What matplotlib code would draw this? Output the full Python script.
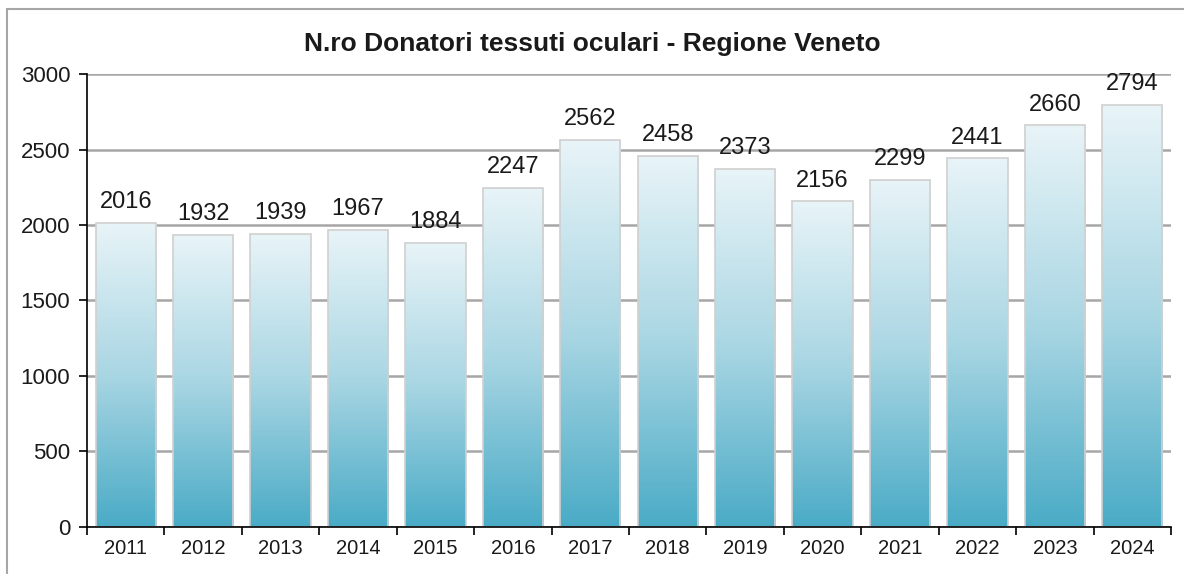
import matplotlib
matplotlib.use('Agg')
import numpy as np
from matplotlib import pyplot as plt
from matplotlib.patches import Rectangle
from matplotlib.colors import LinearSegmentedColormap

# Dati: donatori di tessuti oculari per anno
anni = ['2011', '2012', '2013', '2014', '2015', '2016', '2017',
        '2018', '2019', '2020', '2021', '2022', '2023', '2024']
donatori = [2016, 1932, 1939, 1967, 1884, 2247, 2562,
            2458, 2373, 2156, 2299, 2441, 2660, 2794]
y_ticks = [0, 500, 1000, 1500, 2000, 2500, 3000]

plt.rcParams['font.family'] = ['Liberation Sans', 'DejaVu Sans']

fig = plt.figure(figsize=(11.84, 5.74), dpi=100)
ax = fig.add_axes([0.0735, 0.082, 0.9155, 0.789])

# cornice esterna grigia
fig.patches.append(Rectangle((7 / 1184, -0.05), 1.2, 1 - 9 / 574 + 0.05,
                             transform=fig.transFigure, fill=False,
                             edgecolor='#a6a6a6', linewidth=1.5))

x = np.arange(len(anni))
bars = ax.bar(x, donatori, width=0.78, color='none',
              edgecolor='#d0d0d0', linewidth=1.2, zorder=3)

# gradiente verticale per ogni barra
cmap = LinearSegmentedColormap.from_list('grad', ['#4aabc6', '#a9d6e3', '#e8f4f8'])
grad = np.linspace(0, 1, 256).reshape(-1, 1)
for b in bars:
    x0, y0 = b.get_x(), b.get_y()
    w, h = b.get_width(), b.get_height()
    im = ax.imshow(grad, cmap=cmap, origin='lower', aspect='auto',
                   extent=[x0, x0 + w, y0, y0 + h], zorder=2)
    im.set_clip_path(b)

for xi, v in zip(x, donatori):
    ax.text(xi, v + 65, str(v), ha='center', va='bottom', fontsize=17, color='#1a1a1a')

ax.set_xlim(-0.5, len(anni) - 0.5)
ax.set_ylim(0, 3000)
ax.set_yticks(y_ticks)
ax.set_xticks(x)
ax.set_xticklabels(anni)
ax.set_xticks(np.arange(-0.5, len(anni)), minor=True)
ax.tick_params(axis='x', which='major', length=0, labelsize=14.5, pad=9, colors='#1a1a1a')
ax.tick_params(axis='x', which='minor', length=6, width=1.2, direction='out', color='black')
ax.tick_params(axis='y', length=6, width=1.2, labelsize=16, pad=6, colors='#1a1a1a')
ax.tick_params(axis='y', color='black')

ax.grid(axis='y', color='#a6a6a6', linewidth=1.8, zorder=0)
ax.set_axisbelow(True)
for s in ['top', 'right']:
    ax.spines[s].set_visible(False)
for s in ['left', 'bottom']:
    ax.spines[s].set_linewidth(1.2)
    ax.spines[s].set_zorder(4)

fig.text(0.5, 1 - 44 / 574, 'N.ro Donatori tessuti oculari - Regione Veneto',
         ha='center', va='center', fontsize=19, fontweight='bold', color='#1a1a1a')

fig.savefig('out.png', dpi=100)
